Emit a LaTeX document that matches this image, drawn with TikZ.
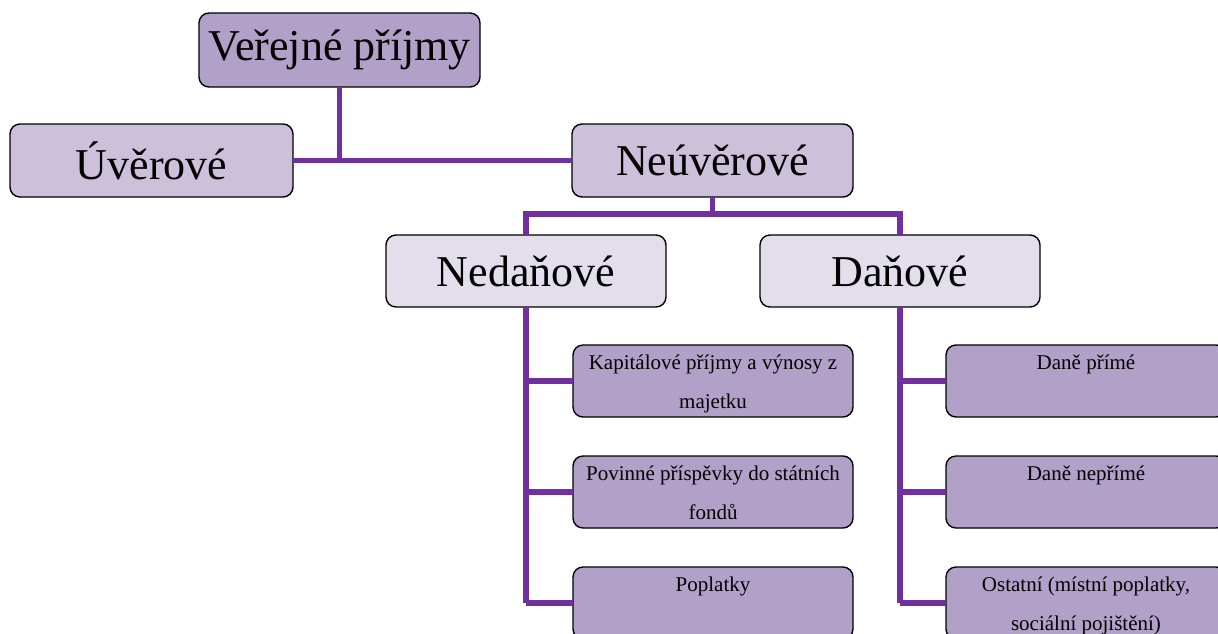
\documentclass[tikz,border=0pt]{standalone}
\usepackage{fontspec}
\setmainfont{Liberation Serif}
\definecolor{dark}{RGB}{177,161,201}
\definecolor{mid}{RGB}{204,192,218}
\definecolor{light}{RGB}{228,222,236}
\definecolor{conn}{RGB}{112,48,160}
\newcommand{\topstrut}{\rule{0pt}{22pt}}
\tikzset{
  box/.style={draw=black, line width=1.4pt, rounded corners=10pt, minimum width=280pt, minimum height=72pt, inner sep=0pt, outer sep=0pt},
  bigtxt/.style={font=\fontsize{44}{52}\selectfont},
  smalltxt/.style={font=\fontsize{21}{39}\selectfont, align=center, anchor=north, inner sep=0pt},
  conline/.style={draw=conn, line width=5.5pt},
}
\begin{document}
\begin{tikzpicture}[x=1pt,y=-1pt]
\useasboundingbox (0,0) rectangle (1218,633);
\clip (0,0) rectangle (1218,633);
\coordinate (bar1) at (0,214);
% boxes
\node[box, fill=dark, minimum width=281pt, minimum height=74pt, bigtxt] (v) at (339.5,50) {Veřejné příjmy};
\node[box, fill=mid, minimum width=283pt, minimum height=73pt, bigtxt] (u) at (151.5,160.5) {Úvěrové};
\node[box, fill=mid, minimum width=281pt, minimum height=73pt, bigtxt] (n) at (712.5,160.5) {Neúvěrové};
\node[box, fill=light, bigtxt] (nd) at (526,271) {Nedaňové};
\node[box, fill=light, bigtxt] (d) at (900,271) {Daňové};
\node[box, fill=dark] (k) at (713,381) {};
\node[box, fill=dark] (p) at (713,492) {};
\node[box, fill=dark] (pl) at (713,603) {};
\node[box, fill=dark] (dp) at (1086,381) {};
\node[box, fill=dark] (dn) at (1086,492) {};
\node[box, fill=dark] (os) at (1086,603) {};
% texts in small boxes
\node[smalltxt] (kt) at ([yshift=-2pt]k.north) {\topstrut Kapitálové příjmy a výnosy z\\majetku};
\node[smalltxt] (pt) at ([yshift=-2pt]p.north) {\topstrut Povinné příspěvky do státních\\fondů};
\node[smalltxt] (plt) at ([yshift=-2pt]pl.north) {\topstrut Poplatky};
\node[smalltxt] (dpt) at ([yshift=-2pt]dp.north) {\topstrut Daně přímé};
\node[smalltxt] (dnt) at ([yshift=-2pt]dn.north) {\topstrut Daně nepřímé};
\node[smalltxt] (ost) at ([yshift=-2pt]os.north) {\topstrut Ostatní (místní poplatky,\\sociální pojištění)};
% connectors
\draw[conline] (v.south) -- (v.south |- u.east);
\draw[conline] (u.east) -- (n.west);
\draw[conline] (n.south) -- (n.south |- bar1);
\draw[conline] (nd.north) -- (nd.north |- bar1) -- (d.north |- bar1) -- (d.north);
\draw[conline] (nd.south) -- (nd.south |- pl.west);
\draw[conline] (nd.south |- k.west) -- (k.west);
\draw[conline] (nd.south |- p.west) -- (p.west);
\draw[conline] (nd.south |- pl.west) -- (pl.west);
\draw[conline] (d.south) -- (d.south |- os.west);
\draw[conline] (d.south |- dp.west) -- (dp.west);
\draw[conline] (d.south |- dn.west) -- (dn.west);
\draw[conline] (d.south |- os.west) -- (os.west);
\end{tikzpicture}
\end{document}
